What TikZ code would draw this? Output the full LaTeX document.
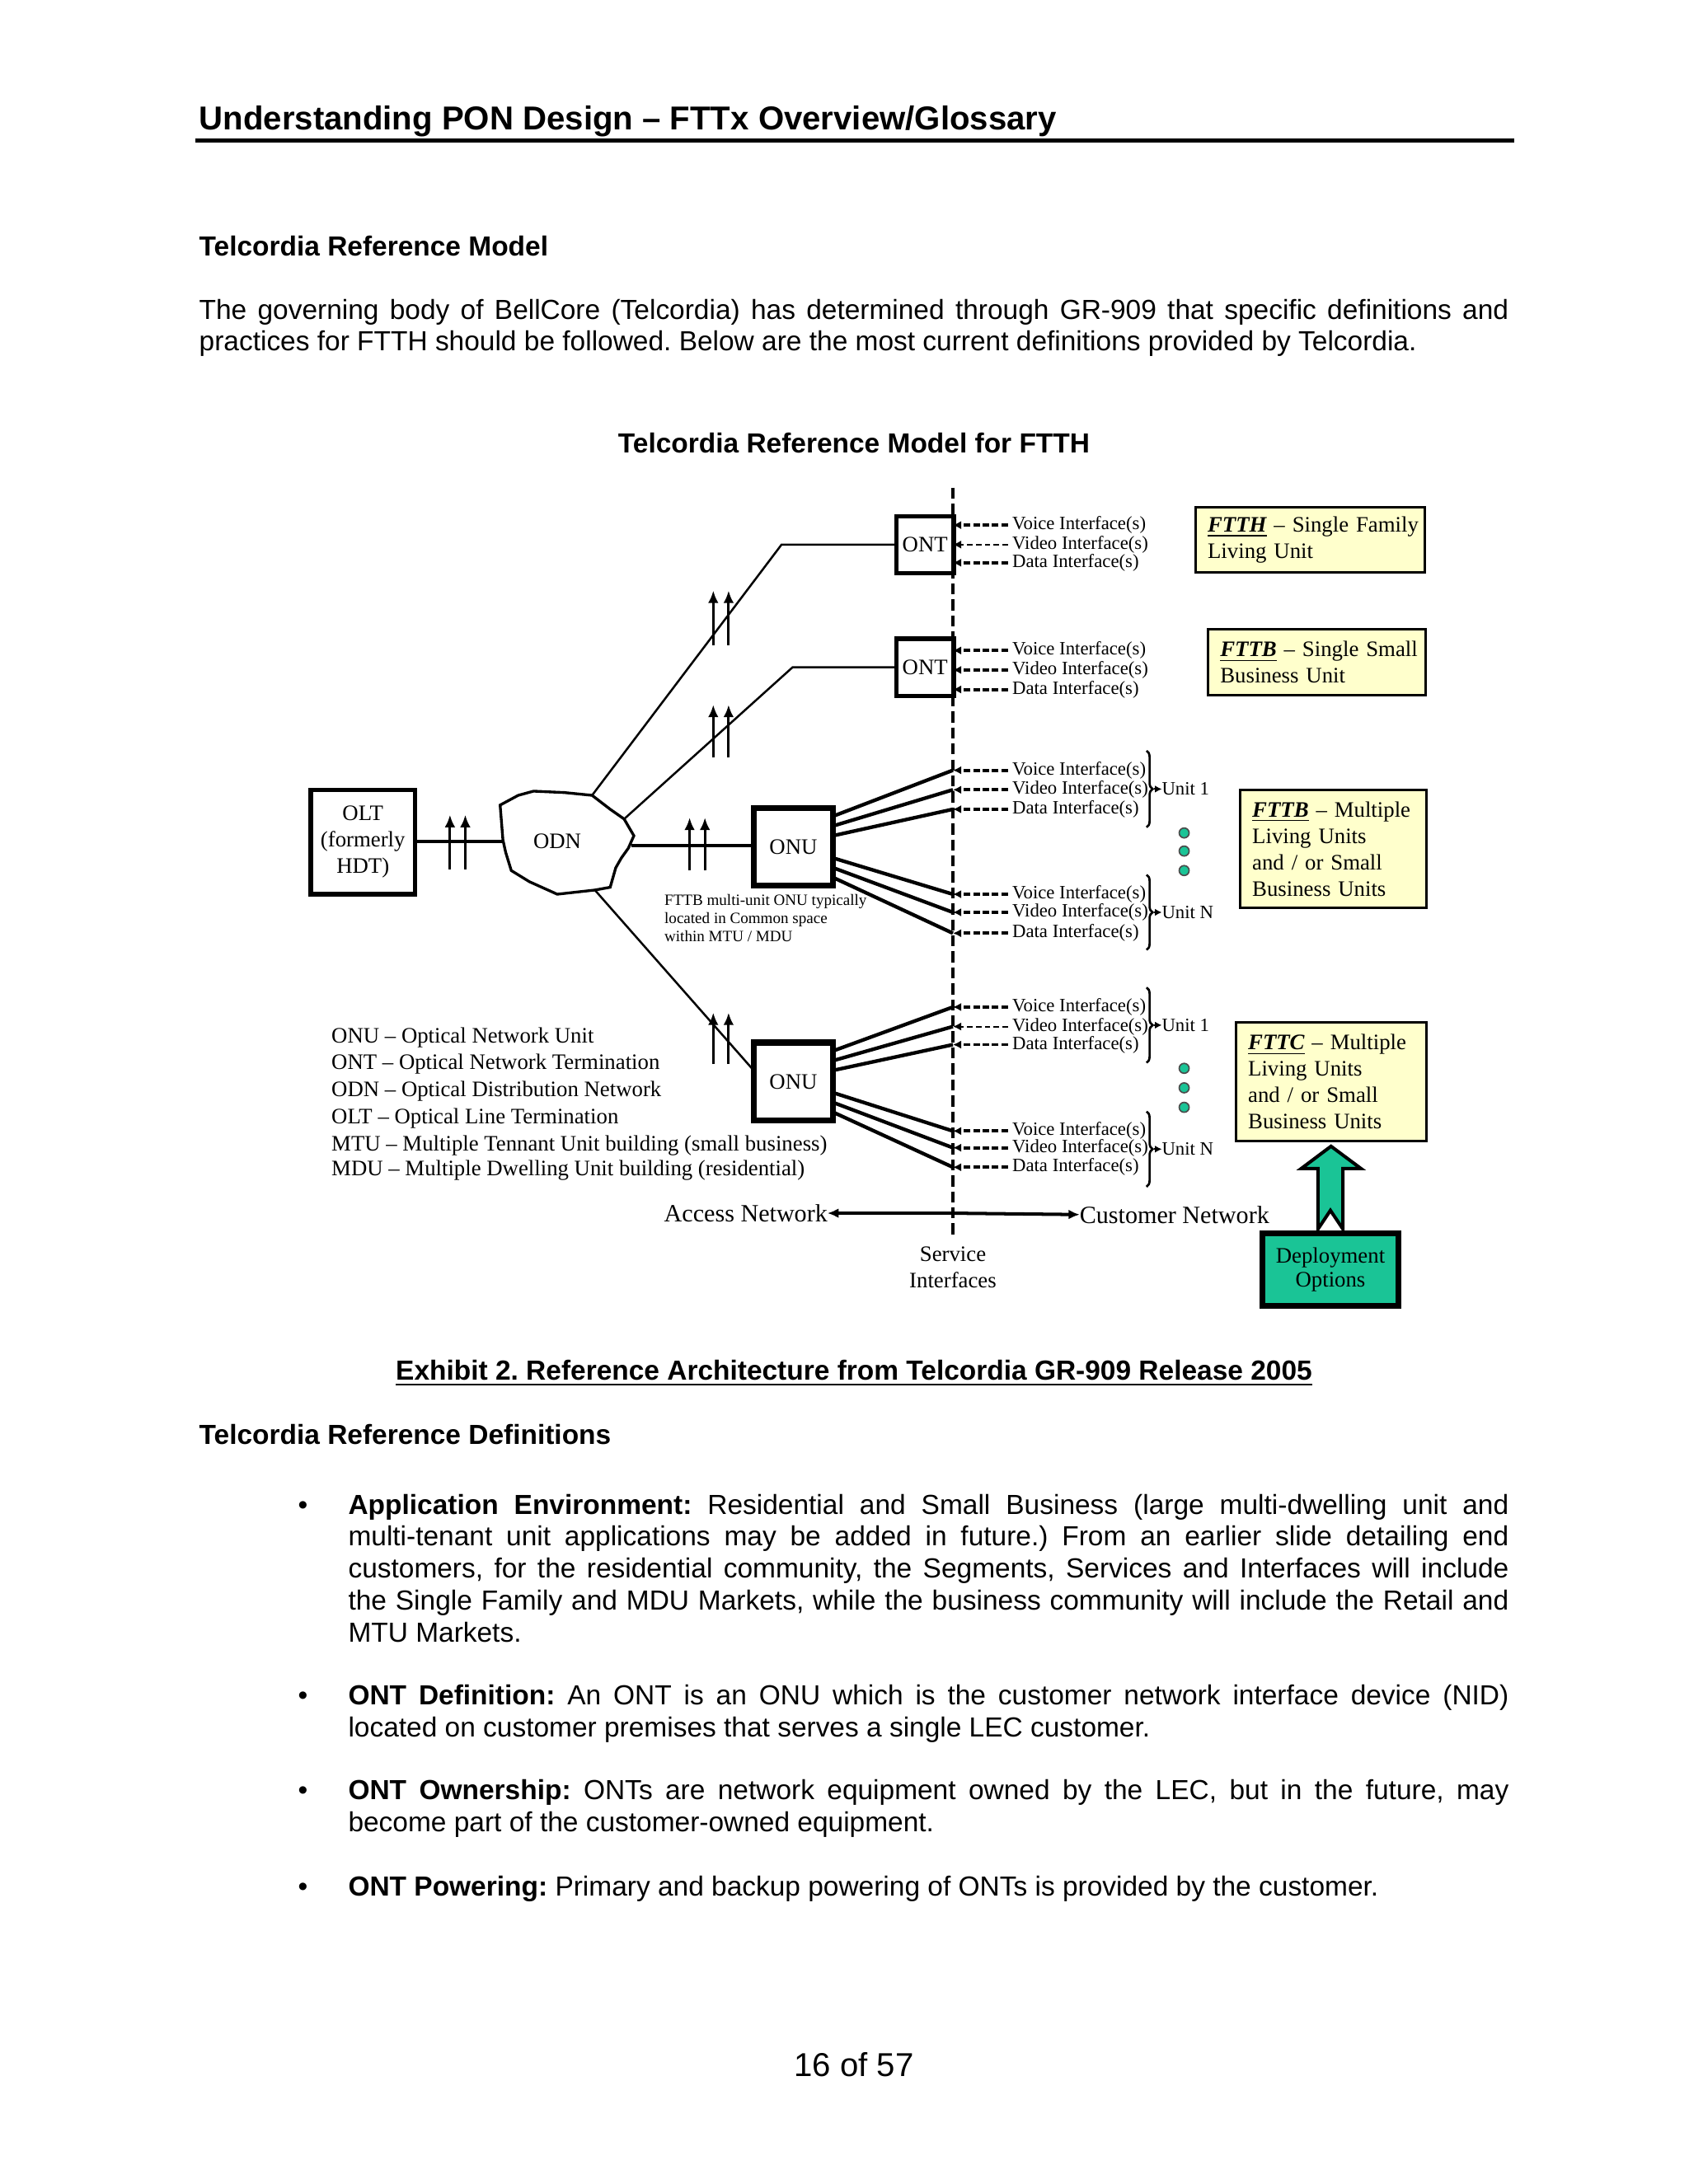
\documentclass[tikz,border=0pt]{standalone}
\usepackage{fontspec}
\setmainfont{Liberation Sans}
\newfontfamily\tms{Liberation Serif}
\usetikzlibrary{arrows.meta,decorations.pathreplacing,calc}
\definecolor{boxyellow}{RGB}{255,255,204}
\definecolor{depgreen}{RGB}{26,196,150}
\newcommand\dgf[1]{\tms\fontsize{#1}{#1}\selectfont}
\newcommand\dgfl[2]{\tms\fontsize{#1}{#2}\selectfont}
\newcommand\ifrow[4]{%
  \coordinate (#1s) at (684,#2);
  \node[iflab] (#1) at (723.5,#2) {#3};
  \draw[ifarr,#4] (#1.west) -- (#1s);}
\newcommand\dblarrow[4]{%
  \coordinate (#1a) at (#2,#3); \coordinate (#1b) at (#2+11,#3);
  \coordinate (#1c) at (#2,#4); \coordinate (#1d) at (#2+11,#4);
  \draw[uparr] (#1a) -- (#1c); \draw[uparr] (#1b) -- (#1d);}
\newcommand\ftx[1]{\textbf{\textit{\underline{#1}}}}
\frenchspacing
\begin{document}
\frenchspacing
\begin{tikzpicture}[x=0.505pt,y=-0.505pt,
  every node/.style={inner sep=0pt,outer sep=0pt},
  body/.style={anchor=base west,font=\fontsize{10}{11.6}\selectfont},
  bodyb/.style={body,font=\bfseries\fontsize{10}{11.6}\selectfont},
  thickbox/.style={draw,line width=1.6pt,fill=white,font=\dgf{8}},
  heavybox/.style={draw,line width=2.1pt,fill=white,font=\dgf{8}},
  ybox/.style={draw,line width=0.9pt,fill=boxyellow,font=\dgf{8},align=left,inner xsep=4.5pt,anchor=north west},
  iflab/.style={anchor=west,inner xsep=1.6pt,font=\dgf{6.8}},
  ifarr/.style={line width=1.15pt,dash pattern=on 2.4pt off 1pt,-{Latex[length=3pt,width=3pt]}},
  thinif/.style={line width=0.6pt,dash pattern=on 2pt off 1.2pt},
  fiber/.style={line width=0.75pt},
  fat/.style={line width=1.3pt},
  uparr/.style={line width=0.9pt,-{Latex[length=4.5pt,width=3.8pt]}},
  unitbr/.style={line width=0.8pt,decorate,decoration={brace,amplitude=2.2pt}},
  legend/.style={anchor=base west,font=\dgf{8}},
  dot/.style={circle,draw=black!70,line width=0.5pt,fill=depgreen,minimum size=3.6pt}
]
\useasboundingbox[fill=white] (0,0) rectangle (1212,1568);

% ---------- page text ----------
\node[anchor=base west,font=\bfseries\fontsize{12}{14}\selectfont] (hdr) at (143,93) {Understanding PON Design – FTTx Overview/Glossary};
\draw[line width=1.6pt] (140,101) -- (1087,101);
\node[bodyb] (sec1) at (143,184) {Telcordia Reference Model};
\node[body] (p1) at (143,229) {\makebox[474.7pt][s]{The governing body of BellCore (Telcordia) has determined through GR-909 that specific definitions and}};
\node[body] (p2) at (143,252) {practices for FTTH should be followed. Below are the most current definitions provided by Telcordia.};
\node[anchor=base,font=\bfseries\fontsize{10}{11.6}\selectfont] (dtitle) at (613,325) {Telcordia Reference Model for FTTH};
\node[anchor=base,font=\bfseries\fontsize{10}{11.6}\selectfont] (caption) at (613,991) {\underline{Exhibit 2. Reference Architecture from Telcordia GR-909 Release 2005}};
\node[bodyb] (sec2) at (143,1037) {Telcordia Reference Definitions};

\foreach \yy/\nm in {1087/b1,1224/b2,1292/b3,1361/b4}{\node[body] (\nm) at (214,\yy) {•};}
\node[body] (l1) at (250,1087) {\makebox[420.7pt][s]{\textbf{Application Environment:} Residential and Small Business (large multi-dwelling unit and}};
\node[body] (l2) at (250,1110) {\makebox[420.7pt][s]{multi-tenant unit applications may be added in future.) From an earlier slide detailing end}};
\node[body] (l3) at (250,1133) {\makebox[420.7pt][s]{customers, for the residential community, the Segments, Services and Interfaces will include}};
\node[body] (l4) at (250,1156) {\makebox[420.7pt][s]{the Single Family and MDU Markets, while the business community will include the Retail and}};
\node[body] (l5) at (250,1179) {MTU Markets.};
\node[body] (l6) at (250,1224) {\makebox[420.7pt][s]{\textbf{ONT Definition:} An ONT is an ONU which is the customer network interface device (NID)}};
\node[body] (l7) at (250,1247) {located on customer premises that serves a single LEC customer.};
\node[body] (l8) at (250,1292) {\makebox[420.7pt][s]{\textbf{ONT Ownership:} ONTs are network equipment owned by the LEC, but in the future, may}};
\node[body] (l9) at (250,1315) {become part of the customer-owned equipment.};
\node[body] (l10) at (250,1361) {\textbf{ONT Powering:} Primary and backup powering of ONTs is provided by the customer.};
\node[anchor=base,font=\fontsize{12}{14}\selectfont] (pg) at (613,1491) {16 of 57};

% ---------- diagram ----------
\coordinate (svtop) at (684,350);
\coordinate (svbot) at (684,887);
\draw[line width=1pt,dash pattern=on 4pt off 1.8pt] (svtop) -- (svbot);

% boxes
\node[thickbox,minimum width=37.9pt,minimum height=37.9pt,align=center,font=\dgfl{8}{9.6}] (olt) at (260.5,604.5) {OLT\\(formerly\\HDT)};
\node[thickbox,minimum width=20.7pt,minimum height=20.7pt] (ont1) at (664,391) {ONT};
\node[thickbox,minimum width=20.7pt,minimum height=20.7pt] (ont2) at (664,479) {ONT};
\node[heavybox,minimum width=28.8pt,minimum height=28.3pt] (onu1) at (569.5,608) {ONU};
\node[heavybox,minimum width=28.8pt,minimum height=28.3pt] (onu2) at (569.5,776.5) {ONU};

% ODN cloud
\draw[line width=1pt,fill=white] (359,578) -- (372,571) -- (383,568) -- (405,569) -- (425,571) -- (438,581) -- (448,588) -- (455,600) -- (451,609) -- (446,616) -- (442,623) -- (438,637) -- (427,639) -- (400,642) -- (380,633) -- (367,625) -- (363,612) -- (361,603) -- cycle;
\node[font=\dgf{8}] (odn) at (400,604) {ODN};
\coordinate (odnN) at (425,571);
\coordinate (odnNE) at (448,588);
\coordinate (odnE) at (453,607);
\coordinate (odnW) at (361,604);
\coordinate (odnS) at (427,639);

% fibers
\draw[fat] (olt.east |- odnW) -- (odnW);
\draw[fat] (odnE) -- (onu1.west |- odnE);
\coordinate (bend1) at (561,391);
\coordinate (bend2) at (569,479);
\draw[fiber] (ont1.west) -- (bend1) -- (odnN);
\draw[fiber] (ont2.west) -- (bend2) -- (odnNE);
\draw[fiber] (odnS) -- ($(onu2.north west)+(0,20)$);

% double arrows
\dblarrow{da1}{323}{624}{585}
\dblarrow{da2}{495}{625}{587}
\dblarrow{da3}{512}{463}{424}
\dblarrow{da4}{512}{544}{506}
\dblarrow{da5}{512}{764}{727}

% note
\node[anchor=base west,font=\dgf{5.7}] (note1) at (477,650) {FTTB multi-unit ONU typically};
\node[anchor=base west,font=\dgf{5.7}] (note2) at (477,663) {located in Common space};
\node[anchor=base west,font=\dgf{5.7}] (note3) at (477,676) {within MTU / MDU};

% interfaces
\ifrow{a1}{377}{Voice Interface(s)}{}
\ifrow{a2}{391}{Video Interface(s)}{thinif}
\ifrow{a3}{404}{Data Interface(s)}{}
\ifrow{b1i}{467}{Voice Interface(s)}{}
\ifrow{b2i}{481}{Video Interface(s)}{}
\ifrow{b3i}{495}{Data Interface(s)}{}
\ifrow{c1}{553}{Voice Interface(s)}{}
\ifrow{c2}{567}{Video Interface(s)}{}
\ifrow{c3}{581}{Data Interface(s)}{}
\ifrow{d1}{642}{Voice Interface(s)}{}
\ifrow{d2}{655}{Video Interface(s)}{}
\ifrow{d3}{670}{Data Interface(s)}{}
\ifrow{e1}{723}{Voice Interface(s)}{}
\ifrow{e2}{737}{Video Interface(s)}{thinif}
\ifrow{e3}{750}{Data Interface(s)}{}
\ifrow{f1}{812}{Voice Interface(s)}{}
\ifrow{f2}{824}{Video Interface(s)}{}
\ifrow{f3}{838}{Data Interface(s)}{}

% fan lines
\foreach \u/\k/\o in {onu1/c1s/6,onu1/c2s/13,onu1/c3s/20,onu1/d1s/36,onu1/d2s/43,onu1/d3s/50,
                      onu2/e1s/6,onu2/e2s/13,onu2/e3s/20,onu2/f1s/36,onu2/f2s/43,onu2/f3s/50}{
  \draw[fat] ($(\u.north east)+(0,\o)$) -- (\k);}

% braces and unit labels
\foreach \nm/\ya/\yb/\lab in {u1/539/594/Unit 1,uN/628/682/Unit N,v1/709/763/Unit 1,vN/798/852/Unit N}{
  \draw[unitbr] (823,\ya) -- (823,\yb);
  \node[anchor=west,font=\dgf{6.8}] (\nm) at (834,{(\ya+\yb)/2}) {\lab};
  \draw[line width=0.6pt,-{Latex[length=2.5pt,width=2.6pt]}] (828.5,{(\ya+\yb)/2}) -- (\nm.west);}

% dots
\foreach \yy/\nm in {598/g1,611/g2,625/g3,767/g4,781/g5,795/g6}{\node[dot] (\nm) at (850,\yy) {};}

% yellow boxes
\node[ybox,text width=74.3pt,minimum height=23.7pt] (ftth) at (858,364) {\mbox{\ftx{FTTH} – Single Family}\\[1.6pt]\mbox{Living Unit}};
\node[ybox,text width=69.8pt,minimum height=23.7pt] (fttb1) at (867,452) {\mbox{\ftx{FTTB} – Single Small}\\[1.6pt]\mbox{Business Unit}};
\node[ybox,text width=58.6pt,minimum height=42.9pt] (fttb2) at (890,567) {\mbox{\ftx{FTTB} – Multiple}\\[1.6pt]Living Units\\[1.6pt]and / or Small\\[1.6pt]Business Units};
\node[ybox,text width=60.1pt,minimum height=42.9pt] (fttc) at (887,734) {\mbox{\ftx{FTTC} – Multiple}\\[1.6pt]Living Units\\[1.6pt]and / or Small\\[1.6pt]Business Units};

% deployment box and arrow
\node[draw,line width=2.1pt,fill=depgreen,minimum width=49.5pt,minimum height=26.3pt,align=center,font=\dgf{8}] (dep) at (955,911.5) {Deployment\\[0.5pt]Options};
\draw[line width=1.2pt,fill=depgreen,line join=miter]
  ($(fttc.south)+(0,4)$) -- (977,839) -- (964,839) -- ($(dep.north)+(9,-3)$) -- (955,869) -- ($(dep.north)+(-9,-3)$) -- (946,839) -- (934,839) -- cycle;

% network labels
\coordinate (netmid) at (684,871);
\node[anchor=east,font=\dgf{9}] (acc) at (594,871) {Access Network};
\node[anchor=west,font=\dgf{9}] (cust) at (775,872) {Customer Network};
\draw[line width=1.2pt,-{Latex[length=4pt,width=3.5pt]}] (netmid) -- (acc.east);
\draw[line width=1.2pt,-{Latex[length=4pt,width=3.5pt]}] (netmid) -- (cust.west);
\node[align=center,font=\dgfl{8}{9.6}] (svc) at (684,910) {Service\\Interfaces};

% legend
\node[legend] (lg1) at (238,749) {ONU – Optical Network Unit};
\node[legend] (lg2) at (238,768) {ONT – Optical Network Termination};
\node[legend] (lg3) at (238,787) {ODN – Optical Distribution Network};
\node[legend] (lg4) at (238,807) {OLT – Optical Line Termination};
\node[legend] (lg5) at (238,826) {MTU – Multiple Tennant Unit building (small business)};
\node[legend] (lg6) at (238,844) {MDU – Multiple Dwelling Unit building (residential)};
\end{tikzpicture}
\end{document}
